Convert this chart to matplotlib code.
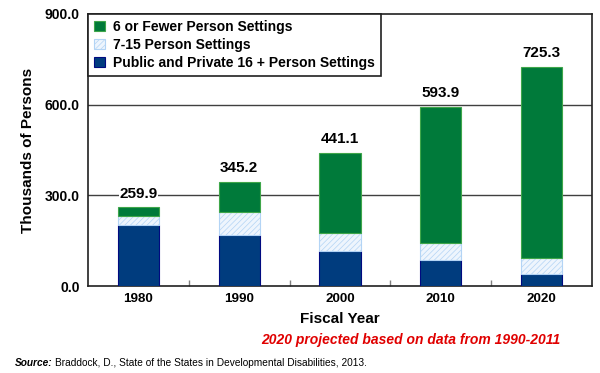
import matplotlib.pyplot as plt
import numpy as np

years = ['1980', '1990', '2000', '2010', '2020']
large = [203.0, 170.0, 116.0, 86.0, 40.0]       # Public and Private 16+
mid = [28.0, 75.0, 58.0, 56.0, 52.0]            # 7-15
small = [28.9, 100.2, 267.1, 451.9, 633.3]      # 6 or fewer
totals = ['259.9', '345.2', '441.1', '593.9', '725.3']
yticks = [0, 300, 600, 900]

plt.rcParams['font.family'] = ['Liberation Sans', 'DejaVu Sans']
plt.rcParams['hatch.linewidth'] = 0.5

fig = plt.figure(figsize=(6, 3.73), dpi=100)
ax = fig.add_axes([0.1467, 0.2332, 0.84, 0.7293])

x = np.arange(len(years))
w = 0.41
bot = np.array(large)
b1 = ax.bar(x, large, w, color='#003C7E', edgecolor='#000A80', linewidth=0.8, zorder=3)
b2 = ax.bar(x, mid, w, bottom=bot, color='#EEF5FD', edgecolor='#B3D4F5',
            hatch='//////', linewidth=0.8, zorder=3)
bot = bot + np.array(mid)
b3 = ax.bar(x, small, w, bottom=bot, color='#007A3A', edgecolor='#3FA64A', linewidth=0.8, zorder=3)
bot = bot + np.array(small)

for xi, top, lab in zip(x, bot, totals):
    ax.annotate(lab, (xi, top), xytext=(0, 10), textcoords='offset points',
                ha='center', va='center', fontsize=11, fontweight='bold', zorder=5,
                bbox=dict(facecolor='white', edgecolor='none', pad=0.3))

ax.set_xlim(-0.5, 4.5)
ax.set_ylim(0, 900)
ax.set_yticks(yticks)
ax.set_yticklabels(['%.1f' % v for v in yticks], fontsize=10, fontweight='bold')
ax.set_xticks(x)
ax.set_xticklabels(years, fontsize=9.6, fontweight='bold')
ax.set_xticks(x[:-1] + 0.5, minor=True)
ax.tick_params(axis='y', which='major', length=0, pad=6)
ax.tick_params(axis='x', which='major', length=0, pad=5)
ax.tick_params(axis='x', which='minor', direction='in', length=4, color='#808080', width=1)

for v in yticks[1:-1]:
    ax.axhline(v, color='#404040', linewidth=1, zorder=1)

for s in ax.spines.values():
    s.set_linewidth(1.2)
    s.set_color('#202020')

ax.set_ylabel('Thousands of Persons', fontsize=11, fontweight='bold', labelpad=7)
ax.set_xlabel('Fiscal Year', fontsize=11, fontweight='bold', labelpad=5)

leg = ax.legend([b3, b2, b1],
                ['6 or Fewer Person Settings', '7-15 Person Settings',
                 'Public and Private 16 + Person Settings'],
                loc='upper left', bbox_to_anchor=(0, 1), borderaxespad=0,
                fancybox=False, framealpha=1, edgecolor='#202020',
                handlelength=0.75, handleheight=0.75, handletextpad=0.6,
                labelspacing=0.28, borderpad=0.45,
                prop={'weight': 'bold', 'size': 10})
leg.get_frame().set_linewidth(1.2)
leg.set_zorder(6)

fig.text(560 / 600, 1 - 340 / 373, '2020 projected based on data from 1990-2011',
         ha='right', va='center', color='#E00000', fontsize=10,
         fontweight='bold', fontstyle='italic')

sy = 1 - 363 / 373
s1 = fig.text(15 / 600, sy, 'Source:', ha='left', va='center', fontsize=7.3,
              fontweight='bold', fontstyle='italic')
fig.canvas.draw()
bb = s1.get_window_extent().transformed(fig.transFigure.inverted())
fig.text(bb.x1 + 0.004, sy, 'Braddock, D., State of the States in Developmental Disabilities, 2013.',
         ha='left', va='center', fontsize=7.3)

fig.savefig('out.png', dpi=100)
